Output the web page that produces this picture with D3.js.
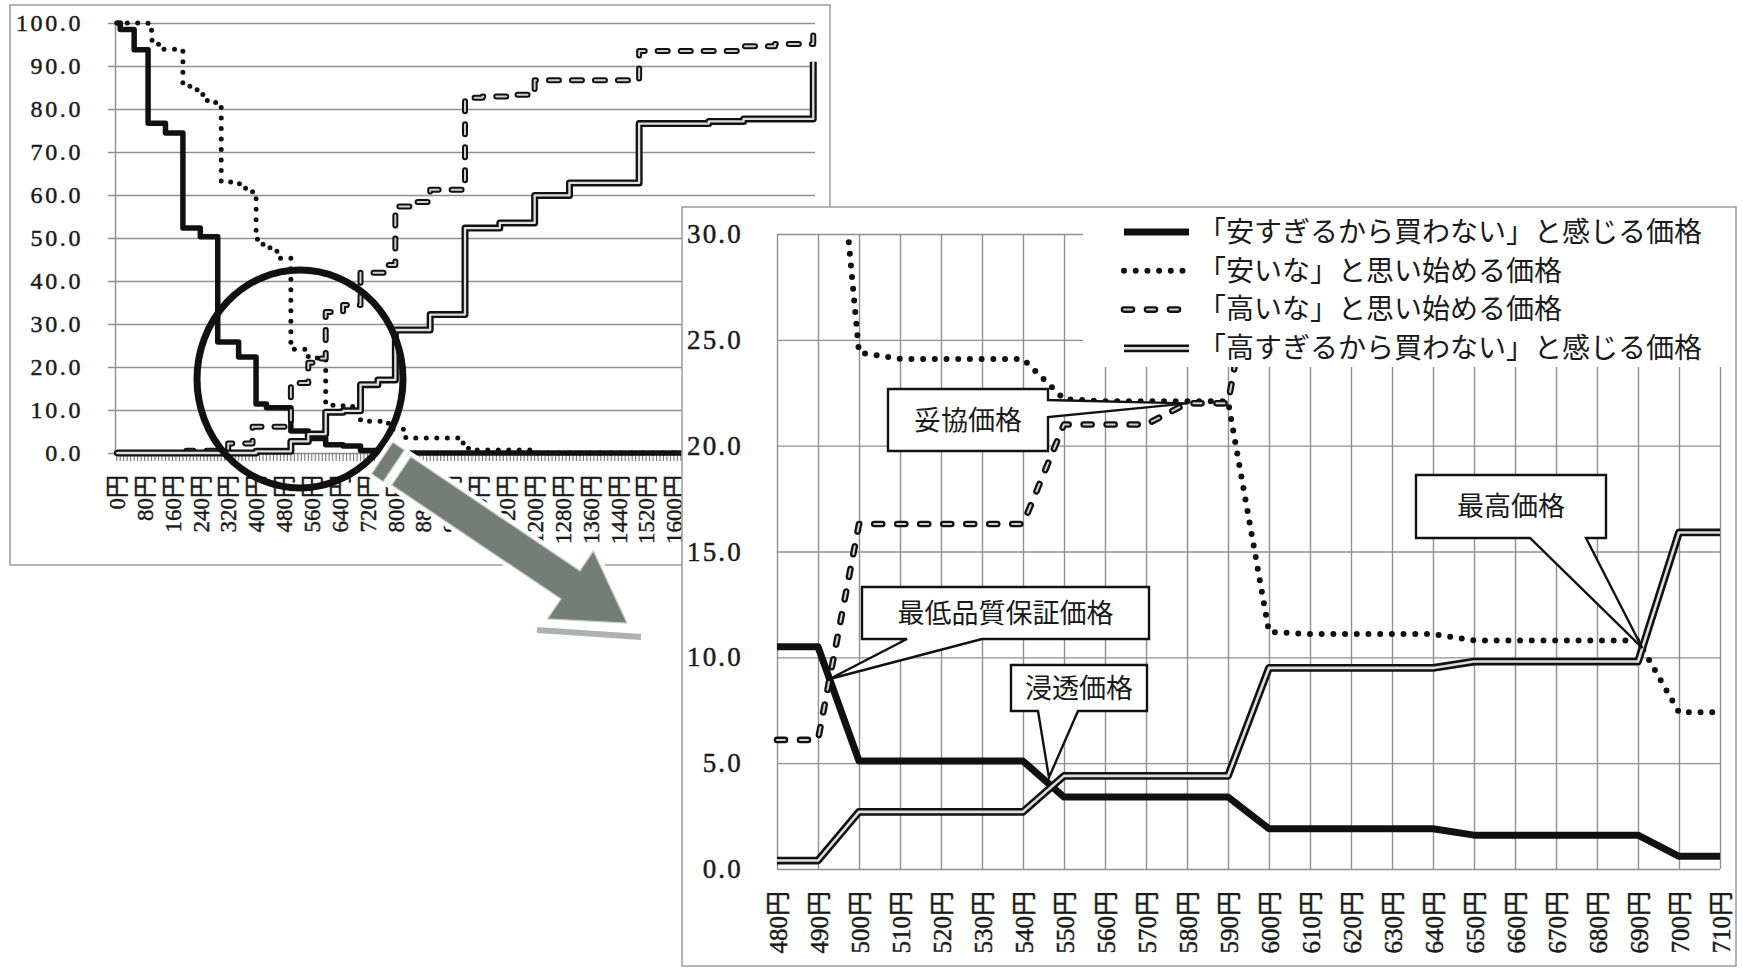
<!DOCTYPE html>
<html>
<head>
<meta charset="utf-8">
<script src="https://cdn.jsdelivr.net/npm/d3@7"></script>
<style>
  body { margin: 0; background: #fff; }
  svg text { fill: #1a1a1a; }
</style>
</head>
<body>
<svg id="chart" width="1743" height="968"></svg>
<script>
// ---------------- data ----------------
const seriesNames = [
  "「安すぎるから買わない」と感じる価格",
  "「安いな」と思い始める価格",
  "「高いな」と思い始める価格",
  "「高すぎるから買わない」と感じる価格"
];
const seriesKinds = ["solid", "dotted", "dashed", "double"];

// Overview: price categories 0円–2000円 in 10円 steps, labelled every 80円
const overviewPrices = d3.range(0, 2001, 10);
const overviewLabelEvery = 8;
const overviewYTicks = [0, 10, 20, 30, 40, 50, 60, 70, 80, 90, 100];

// Overview curves as step breakpoints: [price, % of respondents]
const ovTooCheap = [[0,100],[10,98.5],[50,93.8],[90,76.7],[140,74.4],[190,52.3],[240,50.3],
  [290,25.8],[350,22.3],[400,11.4],[430,10.5],[500,5.1],[550,3.4],[600,1.9],[650,1.6],
  [700,0.6],[760,0],[2000,0]];
const ovCheap = [[0,100],[90,98.5],[100,96],[110,95.3],[120,93.9],[190,86],[210,84.5],
  [240,83.4],[260,81.5],[300,63],[340,62.6],[370,61.2],[390,60.5],[400,49.7],[420,48.4],
  [440,47.4],[460,45.3],[500,24.4],[510,24.1],[550,22.2],[560,22.1],[600,11.2],[610,11.1],
  [650,10.8],[700,7.4],[780,5.5],[830,3.5],[980,2.3],[1010,0.7],[1190,0],[2000,0]];
const ovExpensive = [[0,0],[200,0.5],[320,2.2],[390,6.1],[500,16.3],[550,21.0],[580,22.0],
  [600,32.8],[650,34.4],[700,41.9],[770,43.7],[800,57.3],[860,58.4],[900,61.2],[1000,82.6],
  [1050,82.9],[1120,83.3],[1200,86.7],[1500,93.5],[1790,94.6],[1890,95.1],[2000,99.2]];
const ovTooExpensive = [[0,0],[400,0.4],[500,2.7],[550,4.4],[600,9.5],[650,9.8],[700,15.9],
  [750,17.0],[800,28.6],[900,32.2],[1000,52.3],[1100,53.5],[1200,59.9],[1300,62.8],
  [1500,76.6],[1700,77.1],[1800,77.7],[2000,91]];

// Detail: 480円–710円
const detailPrices = [480,490,500,510,520,530,540,550,560,570,580,590,600,610,620,630,640,650,660,670,680,690,700,710];
const detailYTicks = [0, 5, 10, 15, 20, 25, 30];
const tooCheap     = [10.5,10.5,5.1,5.1,5.1,5.1,5.1,3.4,3.4,3.4,3.4,3.4,1.9,1.9,1.9,1.9,1.9,1.6,1.6,1.6,1.6,1.6,0.6,0.6];
const cheap        = [45.3,45.3,24.4,24.1,24.1,24.1,24.1,22.2,22.1,22.1,22.1,22.1,11.2,11.1,11.1,11.1,11.1,10.8,10.8,10.8,10.8,10.8,7.4,7.4];
const expensive    = [6.1,6.1,16.3,16.3,16.3,16.3,16.3,21.0,21.0,21.0,22.0,22.0,32.8,32.8,32.8,32.8,32.8,34.4,34.4,34.4,34.4,34.4,41.9,41.9];
const tooExpensive = [0.4,0.4,2.7,2.7,2.7,2.7,2.7,4.4,4.4,4.4,4.4,4.4,9.5,9.5,9.5,9.5,9.5,9.8,9.8,9.8,9.8,9.8,15.9,15.9];

const calloutLabels = ["妥協価格", "最低品質保証価格", "浸透価格", "最高価格"];

// ---------------- helpers ----------------
const svg = d3.select("#chart");
const NUM_FONT = "'Liberation Serif', 'Noto Sans CJK JP', serif";
const JP_FONT = "'Noto Sans CJK JP', sans-serif";
const GRID = "#8f8f8f";

function strokeSeries(g, d, kind, big) {
  const add = () => g.append("path").attr("d", d).attr("fill", "none");
  if (kind === "solid") {
    add().attr("stroke", "#111").attr("stroke-width", big ? 7 : 5.5)
      .attr("stroke-linejoin", "round");
  } else if (kind === "dotted") {
    add().attr("stroke", "#111").attr("stroke-width", big ? 6 : 5)
      .attr("stroke-linecap", "round").attr("stroke-dasharray", big ? "0 11.7" : "0 10.5");
  } else if (kind === "dashed") {
    const da = big ? "8 15" : "10 13";
    add().attr("stroke", "#111").attr("stroke-width", big ? 6.6 : 6)
      .attr("stroke-linecap", "round").attr("stroke-linejoin", "round").attr("stroke-dasharray", da);
    add().attr("stroke", "#cfcfcf").attr("stroke-width", 2)
      .attr("stroke-linecap", "round").attr("stroke-linejoin", "round").attr("stroke-dasharray", da);
  } else {
    add().attr("stroke", "#111").attr("stroke-width", big ? 7.8 : 7).attr("stroke-linejoin", "round");
    add().attr("stroke", "#dedede").attr("stroke-width", big ? 2.6 : 2.3).attr("stroke-linejoin", "round");
  }
}

function numText(sel, size, spacing) {
  sel.attr("font-family", NUM_FONT).attr("font-size", size).attr("fill", "#1a1a1a")
    .attr("stroke", "#1a1a1a").attr("stroke-width", 0.45);
  if (spacing) sel.attr("letter-spacing", spacing);
}

// ---------------- overview chart ----------------
const ov = { left: 115, right: 815, top: 23, bottom: 453 };
const ovX = d3.scaleBand().domain(overviewPrices).range([ov.left, ov.right]);
const ovY = d3.scaleLinear().domain([0, 100]).range([ov.bottom, ov.top]);
const ovCx = p => ovX(p) + ovX.bandwidth() / 2;

const ovG = svg.append("g");
ovG.append("rect").attr("x", 10).attr("y", 5).attr("width", 820).attr("height", 560)
  .attr("fill", "#fff").attr("stroke", "#9c9c9c").attr("stroke-width", 1.5);

const ovYAxis = ovG.append("g").attr("transform", `translate(${ov.left},0)`)
  .call(d3.axisLeft(ovY).tickValues(overviewYTicks).tickFormat(d => d.toFixed(1))
    .tickSizeInner(-(ov.right - ov.left)).tickSizeOuter(0).tickPadding(32));
ovYAxis.selectAll("line").attr("x1", -7).attr("stroke", GRID).attr("stroke-width", 1.4);
ovYAxis.select(".domain").attr("stroke", GRID).attr("stroke-width", 1.4);
numText(ovYAxis.selectAll("text"), 24, 2.6);

// hatched category ticks under the baseline
const ovHatch = ovG.append("g").attr("transform", `translate(0,${ov.bottom})`)
  .call(d3.axisBottom(ovX).tickFormat("").tickSize(8));
ovHatch.select(".domain").remove();
ovHatch.selectAll("line").attr("stroke", "#777").attr("stroke-width", 1.1);

const ovXAxis = ovG.append("g").attr("transform", `translate(0,${ov.bottom})`)
  .call(d3.axisBottom(ovX)
    .tickValues(overviewPrices.filter((p, i) => i % overviewLabelEvery === 0))
    .tickFormat(d => d + "円").tickSize(0));
ovXAxis.select(".domain").remove();
ovXAxis.selectAll("text")
  .attr("transform", "rotate(-90)").attr("x", -22).attr("y", 0).attr("dy", "0.36em")
  .style("text-anchor", "end");
numText(ovXAxis.selectAll("text"), 23);

const ovLine = d3.line().x(d => ovCx(d[0])).y(d => ovY(d[1])).curve(d3.curveStepAfter);
[ovTooCheap, ovCheap, ovExpensive, ovTooExpensive].forEach((s, i) => {
  strokeSeries(ovG.append("g"), ovLine(s), seriesKinds[i], false);
});

// highlight ring around the 480円–710円 region
svg.append("ellipse").attr("cx", 300).attr("cy", 379).attr("rx", 103).attr("ry", 109)
  .attr("fill", "none").attr("stroke", "#111").attr("stroke-width", 7);

// ---------------- zoom arrow ----------------
(function drawArrow() {
  const tail = [388, 462], tip = [627, 623];
  const dx = tip[0] - tail[0], dy = tip[1] - tail[1];
  const L = Math.hypot(dx, dy);
  const u = [dx / L, dy / L], n = [-u[1], u[0]];
  const pt = (s, w) => [tail[0] + u[0] * s + n[0] * w, tail[1] + u[1] * s + n[1] * w];
  const g = svg.append("g");
  g.append("line").attr("x1", 537).attr("y1", 630).attr("x2", 641).attr("y2", 637)
    .attr("stroke", "#aeb2ae").attr("stroke-width", 6);
  const bar = [pt(-7, -19), pt(7, -19), pt(7, 19), pt(-7, 19)];
  const body = [pt(16, -17), pt(220, -17), pt(220, -41), pt(L, 0), pt(220, 41), pt(220, 17), pt(16, 17)];
  [bar, body].forEach(poly => {
    g.append("polygon").attr("points", poly.map(p => p.join(",")).join(" "))
      .attr("fill", "#737e76").attr("stroke", "#fff").attr("stroke-width", 9)
      .attr("stroke-linejoin", "miter").attr("paint-order", "stroke");
    g.append("polygon").attr("points", poly.map(p => p.join(",")).join(" "))
      .attr("fill", "none").attr("stroke", "#c9ccc9").attr("stroke-width", 1.2);
  });
})();

// ---------------- detail chart ----------------
const dt = { left: 777, right: 1720, top: 234, bottom: 869 };
const dX = d3.scalePoint().domain(detailPrices).range([dt.left, dt.right]);
const dY = d3.scaleLinear().domain([0, 30]).range([dt.bottom, dt.top]);

const dG = svg.append("g");
dG.append("rect").attr("x", 682).attr("y", 207).attr("width", 1054).attr("height", 759)
  .attr("fill", "#fff").attr("stroke", "#9c9c9c").attr("stroke-width", 1.5);

const dYAxis = dG.append("g").attr("transform", `translate(${dt.left},0)`)
  .call(d3.axisLeft(dY).tickValues(detailYTicks).tickFormat(d => d.toFixed(1))
    .tickSizeInner(-(dt.right - dt.left)).tickSizeOuter(0).tickPadding(34));
dYAxis.select(".domain").remove();
dYAxis.selectAll("line").attr("stroke", GRID).attr("stroke-width", 1.4);
numText(dYAxis.selectAll("text"), 27, 2.2);

const dXAxis = dG.append("g").attr("transform", `translate(0,${dt.bottom})`)
  .call(d3.axisBottom(dX).tickFormat(d => d + "円")
    .tickSizeInner(-(dt.bottom - dt.top)).tickSizeOuter(0).tickPadding(0));
dXAxis.select(".domain").remove();
dXAxis.selectAll("line").attr("stroke", GRID).attr("stroke-width", 1.4);
dXAxis.selectAll("text")
  .attr("transform", "rotate(-90)").attr("x", -22).attr("y", 0).attr("dy", "0.36em")
  .style("text-anchor", "end");
numText(dXAxis.selectAll("text"), 25);

svg.append("clipPath").attr("id", "plotClip").append("rect")
  .attr("x", dt.left - 10).attr("y", dt.top).attr("width", dt.right - dt.left + 20)
  .attr("height", dt.bottom - dt.top + 10);

const detailSeries = [tooCheap, cheap, expensive, tooExpensive];
const dLine = d3.line().x((d, i) => dX(detailPrices[i])).y(d => dY(d));
const linesG = dG.append("g").attr("clip-path", "url(#plotClip)");
detailSeries.forEach((s, i) => strokeSeries(linesG.append("g"), dLine(s), seriesKinds[i], true));

// legend (opaque box over the plot's top-right corner)
const lg = dG.append("g");
lg.append("rect").attr("x", 1083).attr("y", 209).attr("width", 645).attr("height", 158).attr("fill", "#fff");
seriesNames.forEach((name, i) => {
  const y = 232 + i * 38.8;
  strokeSeries(lg.append("g"), `M1124,${y}H1189`, seriesKinds[i], true);
  lg.append("text").attr("x", 1198).attr("y", y).attr("dy", "0.35em")
    .attr("font-family", JP_FONT).attr("font-size", 28).text(name);
});

// ---------------- callouts ----------------
function crossing(a, b, i) {
  const t = (b[i] - a[i]) / ((a[i + 1] - a[i]) - (b[i + 1] - b[i]));
  const x0 = dX(detailPrices[i]), x1 = dX(detailPrices[i + 1]);
  return [x0 + t * (x1 - x0), dY(a[i] + t * (a[i + 1] - a[i]))];
}
const iOf = p => detailPrices.indexOf(p);
const tips = [
  [dX(580), dY(expensive[iOf(580)])],
  crossing(tooCheap, expensive, iOf(490)),
  crossing(tooCheap, tooExpensive, iOf(540)),
  crossing(cheap, tooExpensive, iOf(690))
];
const callouts = [
  { box: [888, 389, 1048, 451], side: "right", base: [400, 417] },
  { box: [862, 587, 1149, 639], side: "bottom", base: [907, 982] },
  { box: [1011, 665, 1147, 711], side: "bottom", base: [1038, 1078] },
  { box: [1416, 475, 1606, 538], side: "bottom", base: [1530, 1586] }
];
const cg = svg.append("g");
callouts.forEach((c, i) => {
  const [x0, y0, x1, y1] = c.box;
  const [tx, ty] = i === 2 ? [tips[i][0] - 3, tips[i][1] - 9] : tips[i];
  let d;
  if (c.side === "right") {
    d = `M${x0},${y0}H${x1}V${c.base[0]}L${tx},${ty}L${x1},${c.base[1]}V${y1}H${x0}Z`;
  } else {
    d = `M${x0},${y0}H${x1}V${y1}H${c.base[1]}L${tx},${ty}L${c.base[0]},${y1}H${x0}Z`;
  }
  cg.append("path").attr("d", d).attr("fill", "#fff").attr("stroke", "#111")
    .attr("stroke-width", 2.4).attr("stroke-linejoin", "miter");
  cg.append("text").attr("x", (x0 + x1) / 2).attr("y", (y0 + y1) / 2).attr("dy", "0.36em")
    .attr("text-anchor", "middle").attr("font-family", JP_FONT).attr("font-size", 27)
    .text(calloutLabels[i]);
});
</script>
</body>
</html>
